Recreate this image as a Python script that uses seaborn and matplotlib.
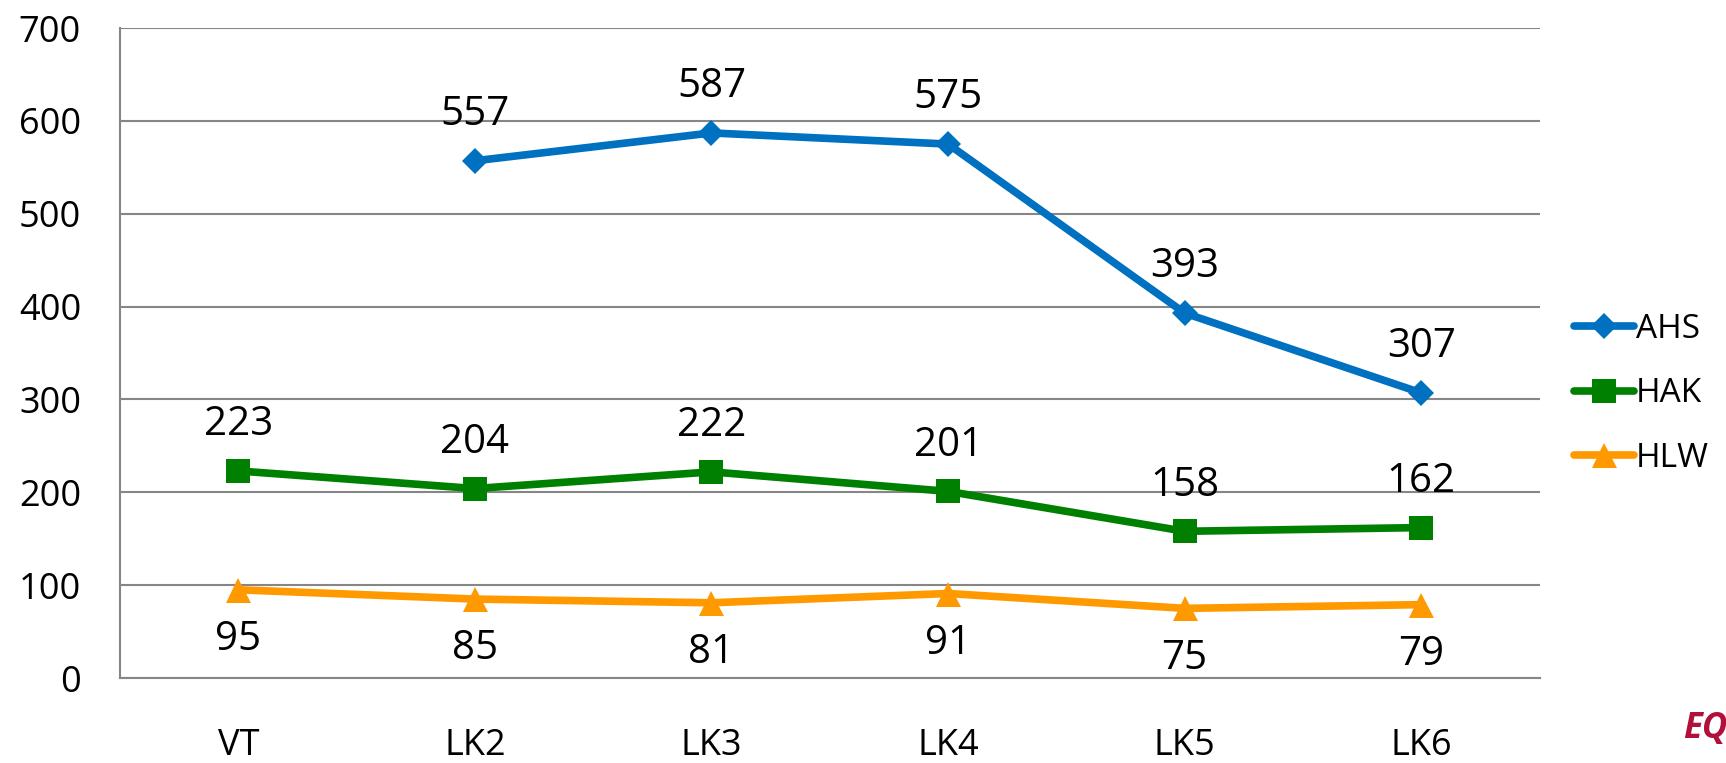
import pandas as pd
import numpy as np
import matplotlib
matplotlib.use("Agg")
import matplotlib.pyplot as plt
import seaborn as sns
from matplotlib.lines import Line2D

# data
categories = ["VT", "LK2", "LK3", "LK4", "LK5", "LK6"]
ahs = [np.nan, 557, 587, 575, 393, 307]
hak = [223, 204, 222, 201, 158, 162]
hlw = [95, 85, 81, 91, 75, 79]

series_names = ["AHS", "HAK", "HLW"]
colors = {"AHS": "#0070C0", "HAK": "#008000", "HLW": "#FF9900"}
markers = {"AHS": "D", "HAK": "s", "HLW": "^"}
msizes = {"AHS": 13, "HAK": 17, "HLW": 18}

df = pd.DataFrame({"cat": categories, "AHS": ahs, "HAK": hak, "HLW": hlw})
df["x"] = range(len(categories))

sns.set_style("white")
plt.rcParams["font.family"] = ["Open Sans", "DejaVu Sans"]
plt.rcParams["text.color"] = "black"
plt.rcParams["xtick.color"] = "black"
plt.rcParams["ytick.color"] = "black"

fig = plt.figure(figsize=(17.26, 7.63), dpi=100)
ax = fig.add_axes([0.0695, 0.1114, 0.8225, 0.8519])

for name in series_names:
    sub = df.dropna(subset=[name])
    sns.lineplot(data=sub, x="x", y=name, ax=ax, color=colors[name], linewidth=5.5,
                 marker=markers[name], markersize=msizes[name], markeredgewidth=0,
                 solid_capstyle="round", zorder=3)

# data labels
for name in series_names:
    for xi, v in zip(df["x"], df[name]):
        if np.isnan(v):
            continue
        dy = -36 if name == "HLW" else 33
        ax.annotate(f"{int(v)}", (xi, v), xytext=(0, dy), textcoords="offset points",
                    ha="center", va="center", fontsize=29, color="black")

ax.set_xlim(-0.5, 5.5)
ax.set_ylim(0, 700)
ax.set_yticks(range(0, 701, 100))
ax.yaxis.grid(True, color="#868686", linewidth=1.5)
ax.set_axisbelow(True)

ax.set_xticks(np.arange(-0.5, 5.6, 1))
ax.set_xticklabels([])
ax.set_xticks(range(len(categories)), minor=True)
ax.set_xticklabels(categories, minor=True)
ax.tick_params(axis="x", which="major", length=10, width=1.5, color="#868686", direction="out")
ax.tick_params(axis="x", which="minor", length=0, pad=36, labelsize=26)
ax.tick_params(axis="y", length=10, width=1.5, color="#868686", labelsize=26, pad=18)

for s in ["top", "right"]:
    ax.spines[s].set_visible(False)
for s in ["left", "bottom"]:
    ax.spines[s].set_color("#868686")
    ax.spines[s].set_linewidth(1.5)

ax.set_xlabel("")
ax.set_ylabel("")

handles = [Line2D([0], [0], color=colors[n], linewidth=5.5, marker=markers[n],
                  markersize=msizes[n], markeredgewidth=0, solid_capstyle="round")
           for n in series_names]
leg = fig.legend(handles, series_names, loc="center left", bbox_to_anchor=(0.912, 0.484),
                 frameon=False, fontsize=24, handlelength=1.8, handletextpad=0.05,
                 labelspacing=0.95, borderpad=0, borderaxespad=0)

# partial logo in the corner
fig.text(0.975, 0.045, "EQ", color="#B0103A", fontsize=25, fontweight="bold",
         fontstyle="italic", ha="left", va="center")

fig.savefig("out.png", dpi=100)
